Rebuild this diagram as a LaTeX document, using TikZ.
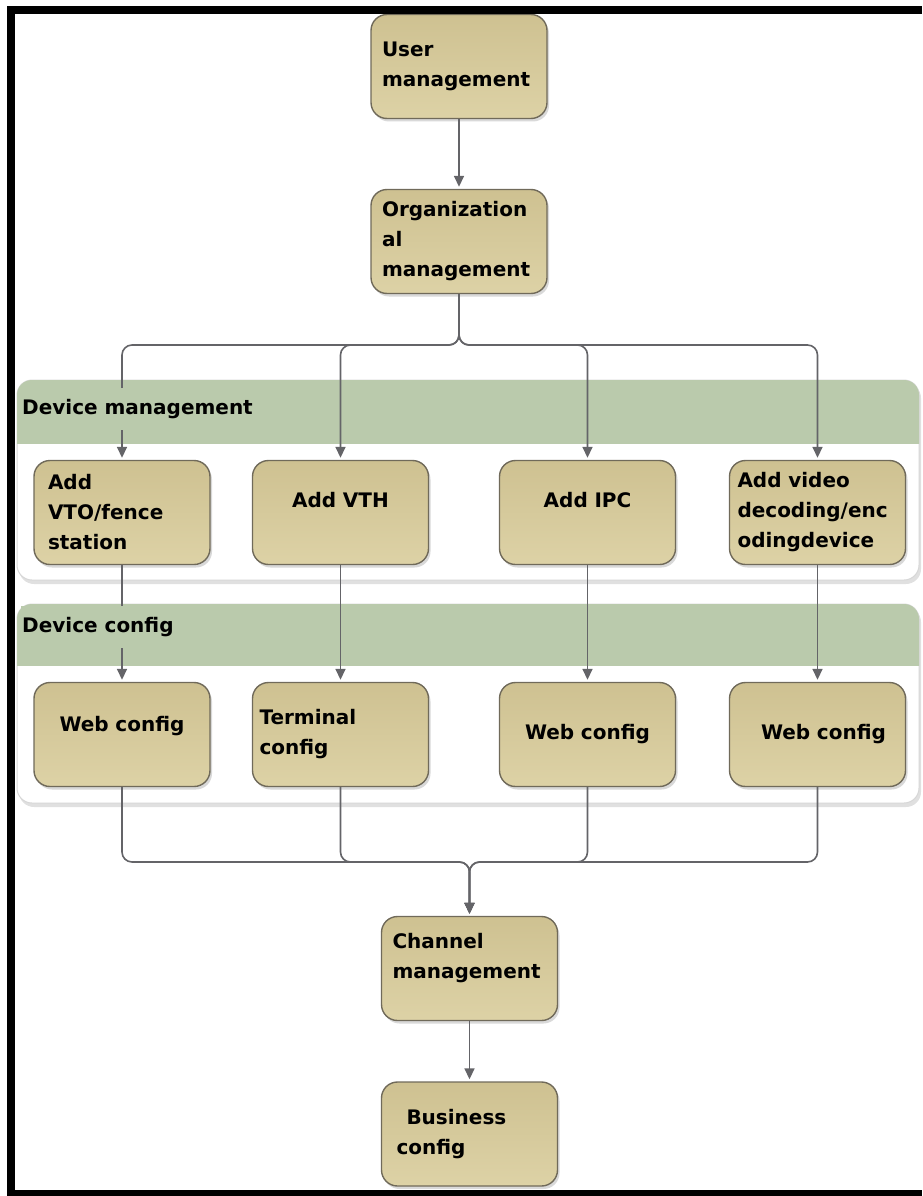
\documentclass[tikz,border=0pt]{standalone}
\usepackage{fontspec}
\setmainfont{DejaVu Sans}
\usetikzlibrary{arrows.meta,shadows}
\definecolor{bandgreen}{RGB}{186,202,172}
\definecolor{tanTop}{RGB}{206,193,145}
\definecolor{tanBot}{RGB}{221,210,166}
\definecolor{boxline}{RGB}{112,106,90}
\definecolor{connline}{RGB}{100,100,104}
\definecolor{panelline}{RGB}{215,215,215}
\newcommand{\lift}[2]{\raisebox{#1}[\height][\depth]{#2}}
\begin{document}
\begin{tikzpicture}[x=1pt,y=-1pt,
  box/.style={draw=boxline, line width=1.4pt, rounded corners=16pt,
    top color=tanTop, bottom color=tanBot,
    minimum width=176pt, minimum height=104pt,
    font=\fontsize{20pt}{30pt}\selectfont\bfseries,
    drop shadow={shadow xshift=2pt, shadow yshift=-3pt, fill=black!25, opacity=0.6}},
  lbox/.style={box, align=left, inner xsep=11pt, text width=154pt},
  cbox/.style={box, align=center, inner xsep=11pt, text width=154pt},
  conn/.style={draw=connline, line width=1.6pt, -{Triangle[length=11pt,width=10pt]}, shorten >=2pt},
  panel/.style={fill=white, draw=panelline, line width=1pt, rounded corners=15pt},
  panelshadow/.style={fill=black!12, rounded corners=15pt},
  grouplabel/.style={fill=bandgreen, anchor=west, inner xsep=1pt, inner ysep=0pt,
    minimum height=42pt, font=\fontsize{20pt}{24pt}\selectfont\bfseries},
]
\useasboundingbox (0,0) rectangle (922,1196);

% Device management panel
\fill[panelshadow] (19,383) rectangle (921,584);
\draw[panel] (17,380) rectangle (919,580);
\begin{scope}
  \clip (16,379) rectangle (920,443);
  \fill[bandgreen, rounded corners=15pt] (17,380) rectangle (919,480);
\end{scope}

% Device config panel
\fill[panelshadow] (19,607) rectangle (921,807);
\draw[panel] (17,604) rectangle (919,803);
\begin{scope}
  \clip (16,603) rectangle (920,665);
  \fill[bandgreen, rounded corners=15pt] (17,604) rectangle (919,700);
\end{scope}

% boxes
\node[lbox] (user) at (459,66.5) {User\\management};
\node[lbox] (org) at (459,241.5) {Organization\\al\\management};
\node[lbox, inner xsep=14pt, text width=148pt] (vto) at (122,512.5) {Add\\VTO/fence\\station};
\node[cbox] (vth) at (340.5,512.5) {\lift{12pt}{Add VTH}};
\node[cbox] (ipc) at (587.5,512.5) {\lift{12pt}{Add IPC}};
\node[lbox, inner xsep=8pt, text width=160pt] (vid) at (817.5,512.5) {Add video\\decoding/enc\\odingdevice};
\node[cbox] (web1) at (122,734.5) {\lift{8pt}{Web config}};
\node[lbox, inner xsep=7pt, text width=162pt] (term) at (340.5,734.5) {Terminal\\config};
\node[cbox] (web3) at (587.5,734.5) {Web config};
\node[cbox] (web4) at (817.5,734.5) {\hspace*{12pt}Web config};
\node[lbox] (chan) at (469.5,968.5) {\lift{10pt}{Channel}\\\lift{10pt}{management}};
\node[lbox, inner xsep=15pt, text width=146pt] (bus) at (469.5,1134) {\hspace*{10pt}Business\\config};

% connectors
\coordinate (split) at (459,345);
\coordinate (merge) at (469.5,862);
\draw[conn] (user) -- (org);
\foreach \t in {vto,vth,ipc,vid}
  \draw[conn, rounded corners=10pt] (org.south) -- (split) -| (\t.north);
\draw[conn] (vto) -- (web1);
\draw[conn] (vth) -- (term);
\draw[conn] (ipc) -- (web3);
\draw[conn] (vid) -- (web4);
\foreach \s in {web1,term,web3,web4}
  \draw[conn, rounded corners=10pt] (\s.south) |- (merge) -- (chan.north);
\draw[conn] (chan) -- (bus);

% group labels
\node[grouplabel] (dmlabel) at (21,409) {Device management};
\node[grouplabel] (dclabel) at (21,627) {Device config};

% frame
\draw[line width=8pt] (922,10) -- (10.5,10) -- (10.5,1194) -- (922,1194);
\end{tikzpicture}
\end{document}
